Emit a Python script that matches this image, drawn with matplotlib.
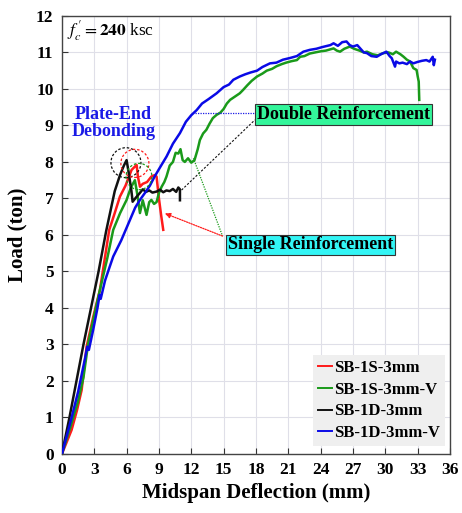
import matplotlib
matplotlib.use("Agg")
import matplotlib.pyplot as plt
from matplotlib.patches import Ellipse

plt.rcParams["font.family"] = ["Liberation Serif", "DejaVu Serif"]
plt.rcParams["mathtext.fontset"] = "stix"

# ---- load-deflection data (deflection in mm, load in ton) ----
sb1s_x = [0, 0.9, 1.4, 1.83, 2.29, 2.9, 3.53, 4.0, 4.39, 4.9, 5.38, 5.9, 6.46, 6.93,
          7.05, 7.24, 7.5, 7.9, 8.3, 8.6, 8.78, 9.0, 9.2, 9.4]
sb1s_y = [0, 0.66, 1.2, 1.75, 2.94, 3.75, 4.5, 5.4, 6.14, 6.6, 7.05, 7.35, 7.78, 7.92,
          7.6, 7.32, 7.4, 7.45, 7.6, 7.64, 7.6, 7.0, 6.55, 6.14]

sb1sv_x = [0, 0.8, 1.5, 2.0, 2.44, 3.0, 3.53, 4.2, 4.76, 5.4, 6.0, 6.4, 6.77, 7.0, 7.24,
           7.5, 7.85, 8.1, 8.3, 8.55, 8.78, 9.0, 9.25, 9.5, 9.7, 10.0, 10.3, 10.55, 10.8,
           11.0, 11.2, 11.4, 11.7, 12.0, 12.3, 12.6, 12.8, 13.1, 13.4, 13.7, 14.0, 14.35,
           14.7, 15.0, 15.3, 15.6, 16.0, 16.5, 16.8, 17.2, 17.6, 18.1, 18.6, 19.0, 19.5,
           19.9, 20.4, 20.8, 21.3, 21.8, 22.1, 22.5, 23.0, 23.5, 24.0, 24.5, 25.2, 25.5,
           25.8, 26.2, 26.7, 27.1, 27.6, 28.0, 28.3, 28.8, 29.3, 29.8, 30.3, 30.7, 31.0,
           31.4, 31.7, 32.0, 32.3, 32.6, 32.9, 33.0, 33.1, 33.15]
sb1sv_y = [0, 0.75, 1.45, 2.1, 3.03, 3.8, 4.5, 5.35, 6.14, 6.6, 6.96, 7.3, 7.5, 7.1, 6.6,
           6.95, 6.55, 6.9, 6.96, 6.85, 6.9, 7.15, 7.32, 7.45, 7.6, 7.9, 8.0, 8.25, 8.23,
           8.35, 8.05, 8.0, 8.1, 7.98, 8.05, 8.35, 8.6, 8.78, 8.88, 9.05, 9.2, 9.29,
           9.35, 9.45, 9.6, 9.7, 9.78, 9.88, 9.97, 10.1, 10.22, 10.34, 10.42, 10.5, 10.55,
           10.62, 10.68, 10.72, 10.76, 10.79, 10.88, 10.9, 10.97, 11.0, 11.03, 11.05, 11.11, 11.05,
           11.02, 11.1, 11.16, 11.1, 11.05, 11.0, 11.02, 10.95, 10.92, 10.98, 11.0, 10.95, 11.02,
           10.95, 10.88, 10.8, 10.75, 10.57, 10.52, 10.35, 10.2, 9.7]

sb1d_x = [0, 0.7, 1.35, 2.0, 2.7, 3.4, 4.1, 4.9, 5.4, 5.75, 6.0, 6.2, 6.45, 6.56, 6.8,
          7.2, 7.5, 7.8, 8.1, 8.4, 8.8, 9.1, 9.4, 9.7, 10.0, 10.3, 10.6, 10.8, 10.95, 10.95]
sb1d_y = [0, 1.0, 2.0, 3.0, 4.0, 5.0, 6.1, 7.2, 7.65, 7.9, 8.05, 7.7, 7.2, 6.91, 7.0,
          7.14, 7.25, 7.18, 7.22, 7.16, 7.19, 7.24, 7.17, 7.22, 7.2, 7.26, 7.18, 7.3, 7.25, 6.95]

sb1dv_x = [0, 0.9, 1.5, 2.13, 2.35, 2.5, 2.9, 3.3, 3.5, 3.6, 4.0, 4.4, 4.76, 5.5, 6.15,
           6.8, 7.24, 7.7, 8.16, 8.6, 9.1, 9.71, 10.3, 10.95, 11.5, 12.0, 12.5, 13.0, 13.6,
           14.35, 15.0, 15.5, 15.9, 16.5, 17.0, 17.5, 18.1, 18.6, 19.3, 19.9, 20.5, 21.2,
           21.8, 22.4, 23.0, 23.6, 24.2, 24.9, 25.2, 25.6, 26.0, 26.4, 26.7, 27.0, 27.4,
           27.7, 28.0, 28.3, 28.7, 29.2, 29.6, 30.1, 30.4, 30.6, 30.9, 31.0, 31.3, 31.6,
           32.0, 32.3, 32.6, 33.0, 33.4, 33.8, 34.1, 34.4, 34.5, 34.6]
sb1dv_y = [0, 1.0, 1.7, 2.6, 2.94, 2.85, 3.4, 4.0, 4.36, 4.25, 4.75, 5.1, 5.41, 5.85, 6.3,
           6.75, 6.96, 7.15, 7.35, 7.6, 7.85, 8.15, 8.5, 8.79, 9.1, 9.28, 9.42, 9.6, 9.72,
           9.88, 10.05, 10.12, 10.25, 10.34, 10.4, 10.45, 10.5, 10.6, 10.7, 10.72, 10.8, 10.85,
           10.9, 11.02, 11.07, 11.1, 11.15, 11.2, 11.25, 11.18, 11.28, 11.3, 11.2, 11.16, 11.2,
           11.1, 11.0, 10.98, 10.9, 10.88, 10.95, 11.02, 10.9, 10.84, 10.61, 10.75, 10.7, 10.72,
           10.68, 10.75, 10.7, 10.74, 10.77, 10.79, 10.75, 10.88, 10.65, 10.8]

series_labels = ["SB-1S-3mm", "SB-1S-3mm-V", "SB-1D-3mm", "SB-1D-3mm-V"]
series_colors = ["#ff1a1a", "#1a9a1a", "#111111", "#0a0ae6"]
x_ticks = list(range(0, 37, 3))
y_ticks = list(range(0, 13))

fig = plt.figure(figsize=(4.62, 5.13), dpi=100)
ax = fig.add_axes([0.134, 0.115, 0.840, 0.854])

series = [(sb1s_x, sb1s_y), (sb1sv_x, sb1sv_y), (sb1d_x, sb1d_y), (sb1dv_x, sb1dv_y)]
for (xs, ys), lab, col in zip(series, series_labels, series_colors):
    ax.plot(xs, ys, color=col, lw=1.8, label=lab, zorder=3)

ax.set_xlim(0, 36)
ax.set_ylim(0, 12)
ax.set_xticks(x_ticks)
ax.set_yticks(y_ticks)
ax.grid(True, color="#dfdfe8", lw=0.8, zorder=0)
ax.tick_params(direction="in", length=4, width=0.8, colors="#333333",
               labelsize=12.5, labelcolor="black", pad=6)
for lbl in ax.get_xticklabels() + ax.get_yticklabels():
    lbl.set_fontweight("bold")
for sp in ax.spines.values():
    sp.set_color("#444444")
    sp.set_linewidth(1.0)

ax.set_xlabel("Midspan Deflection (mm)", fontsize=15, fontweight="bold", labelpad=3)
ax.set_ylabel("Load (ton)", fontsize=15, fontweight="bold", labelpad=6)

# concrete strength note
ax.text(0.5, 11.6, r"$f^{\,\prime}_{c} = \mathbf{240}$ ksc", fontsize=12.5,
        va="center", ha="left")

# debonding markers
for (cx, cy, w, h, col) in [(5.94, 7.98, 2.78, 0.82, "#111111"),
                            (6.77, 7.96, 2.6, 0.77, "#ff1a1a"),
                            (7.15, 7.6, 2.4, 0.72, "#1a9a1a")]:
    ax.add_patch(Ellipse((cx, cy), w, h, fill=False, ls=(0, (2, 1.5)),
                         lw=0.9, ec=col, zorder=4))

ax.text(4.78, 9.07, "Plate-End\nDebonding", color="#1a1ae6", fontsize=13,
        fontweight="bold", ha="center", va="center", linespacing=1.0, zorder=5)

# callout boxes
ax.text(26.15, 9.30, "Double Reinforcement", fontsize=13, fontweight="bold",
        ha="center", va="center", zorder=6,
        bbox=dict(boxstyle="square,pad=0.1", fc="#33f59a", ec="#333333", lw=0.8))
ax.text(23.08, 5.73, "Single Reinforcement", fontsize=13, fontweight="bold",
        ha="center", va="center", zorder=6,
        bbox=dict(boxstyle="square,pad=0.1", fc="#33f5f5", ec="#333333", lw=0.8))

# leader lines
ax.plot([12.3, 17.9], [9.35, 9.35], color="#1a1ae6", ls=(0, (1, 1)), lw=0.9, zorder=5)
ax.plot([11.1, 17.9], [7.23, 9.15], color="#111111", ls=(0, (2, 1.5)), lw=0.8, zorder=5)
ax.plot([12.2, 14.9], [8.1, 5.97], color="#1a9a1a", ls=(0, (1, 1)), lw=0.9, zorder=5)
ax.annotate("", xy=(9.55, 6.59), xytext=(14.9, 5.97),
            arrowprops=dict(arrowstyle="-|>", color="#ff1a1a", lw=0.9,
                            ls=(0, (1, 1)), mutation_scale=8, shrinkA=0, shrinkB=0),
            zorder=5)

leg = ax.legend(loc="lower right", bbox_to_anchor=(0.995, 0.01),
                prop={"weight": "bold", "size": 12}, frameon=True, fancybox=False,
                handlelength=0.85, handletextpad=0.1, labelspacing=0.35,
                borderpad=0.3, borderaxespad=0.2)
leg.get_frame().set_facecolor("#efefef")
leg.get_frame().set_edgecolor("none")
leg.get_frame().set_alpha(1.0)
for line in leg.get_lines():
    line.set_linewidth(1.4)

fig.savefig("out.png", dpi=100)
